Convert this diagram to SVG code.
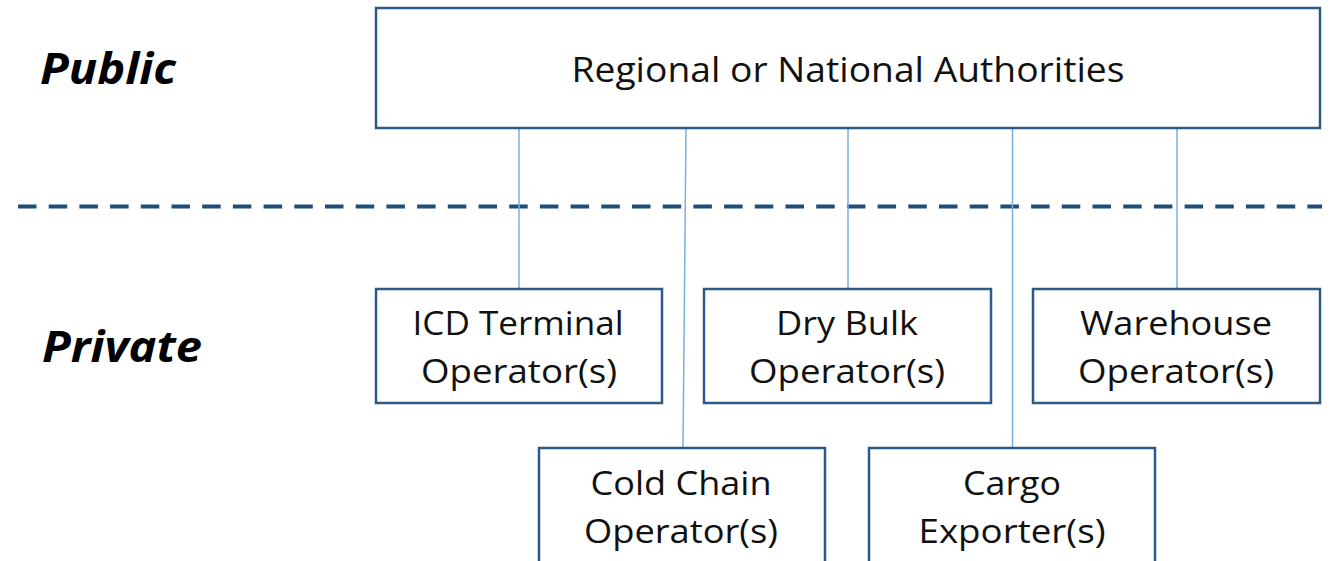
<svg xmlns="http://www.w3.org/2000/svg" width="1337" height="561" viewBox="0 0 1337 561">
<style>
.box{fill:#fff;stroke:#2E5A87;stroke-width:2.5}
.t{font-family:"Open Sans","Noto Sans",sans-serif;font-size:32px;fill:#111;text-anchor:middle}
.lbl{font-family:"Open Sans","Noto Sans",sans-serif;font-size:43px;font-weight:bold;font-style:italic;fill:#000}
.conn{stroke:#7DAEE0;stroke-width:1.5;fill:none}
</style>
<rect width="1337" height="561" fill="#fff"/>
<text class="lbl" x="40" y="84" textLength="136" lengthAdjust="spacingAndGlyphs">Public</text>
<text class="lbl" x="42" y="362" textLength="160" lengthAdjust="spacingAndGlyphs">Private</text>
<line x1="18" y1="206.5" x2="1322" y2="206.5" stroke="#1F4E79" stroke-width="4" stroke-dasharray="18.5 12.2"/>
<g id="connectors">
<line class="conn" x1="519" y1="128" x2="519" y2="289"/>
<line class="conn" x1="686" y1="128" x2="683" y2="448"/>
<line class="conn" x1="848" y1="128" x2="848" y2="289"/>
<line class="conn" x1="1012.5" y1="128" x2="1012.5" y2="448"/>
<line class="conn" x1="1177" y1="128" x2="1177" y2="289"/>
</g>
<g id="authorities"><rect class="box" x="376" y="8" width="944" height="120"/><text class="t" x="848" y="82" style="font-size:34px" textLength="553" lengthAdjust="spacingAndGlyphs">Regional or National Authorities</text></g>
<g id="icd"><rect class="box" x="376" y="289" width="286" height="114"/><text class="t" x="518" y="335" textLength="211" lengthAdjust="spacingAndGlyphs">ICD Terminal</text><text class="t" x="519" y="383" textLength="196" lengthAdjust="spacingAndGlyphs">Operator(s)</text></g>
<g id="drybulk"><rect class="box" x="704" y="289" width="287" height="114"/><text class="t" x="847" y="335" textLength="142" lengthAdjust="spacingAndGlyphs">Dry Bulk</text><text class="t" x="847" y="383" textLength="196" lengthAdjust="spacingAndGlyphs">Operator(s)</text></g>
<g id="warehouse"><rect class="box" x="1033" y="289" width="287" height="114"/><text class="t" x="1176" y="335" textLength="192" lengthAdjust="spacingAndGlyphs">Warehouse</text><text class="t" x="1176" y="383" textLength="196" lengthAdjust="spacingAndGlyphs">Operator(s)</text></g>
<g id="coldchain"><rect class="box" x="539" y="448" width="286" height="130"/><text class="t" x="681" y="495" textLength="181" lengthAdjust="spacingAndGlyphs">Cold Chain</text><text class="t" x="681" y="543" textLength="194" lengthAdjust="spacingAndGlyphs">Operator(s)</text></g>
<g id="cargo"><rect class="box" x="869" y="448" width="286" height="130"/><text class="t" x="1012" y="495" textLength="98" lengthAdjust="spacingAndGlyphs">Cargo</text><text class="t" x="1012" y="543" textLength="187" lengthAdjust="spacingAndGlyphs">Exporter(s)</text></g>
</svg>
